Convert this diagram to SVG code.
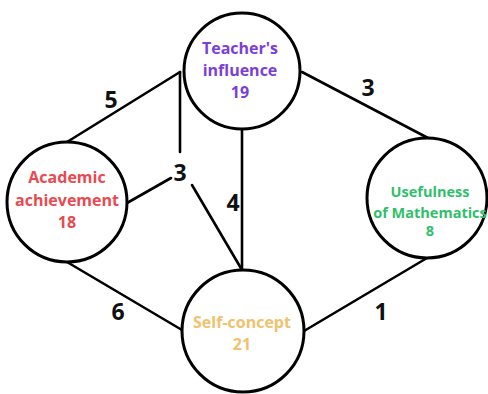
<svg xmlns="http://www.w3.org/2000/svg" width="488" height="394" viewBox="0 0 488 394">
<style>
.n{fill:#fff;stroke:#000;stroke-width:3}
.e{stroke:#000;stroke-width:2.6;fill:none;stroke-linecap:round}
.t{font-family:"Open Sans","Liberation Sans",sans-serif;font-weight:bold;font-size:16px;text-anchor:middle}
.s{font-size:14.5px}
.w{font-family:"Open Sans","Liberation Sans",sans-serif;font-weight:bold;font-size:23px;text-anchor:middle;fill:#111}
</style>
<rect width="488" height="394" fill="#fff"/>
<g id="connectors">
<line class="e" x1="180" y1="72" x2="67" y2="142"/>
<line class="e" x1="180" y1="72" x2="180" y2="152"/>
<line class="e" x1="127" y1="203" x2="171" y2="178"/>
<line class="e" x1="192" y1="185" x2="242" y2="270"/>
<line class="e" x1="242" y1="129" x2="242" y2="270"/>
<line class="e" x1="302" y1="72" x2="428" y2="138"/>
<line class="e" x1="427" y1="258" x2="304" y2="331"/>
<line class="e" x1="67" y1="262" x2="182" y2="330"/>
<text class="w" x="111" y="108">5</text>
<text class="w" x="180" y="181">3</text>
<text class="w" x="233" y="211">4</text>
<text class="w" x="368" y="96">3</text>
<text class="w" x="381" y="320">1</text>
<text class="w" x="118" y="320">6</text>
</g>
<g id="teacher">
<circle class="n" cx="242" cy="71" r="58"/>
<text class="t" fill="#7b3fd8" x="240" y="54">Teacher's</text>
<text class="t" fill="#7b3fd8" x="240" y="76">influence</text>
<text class="t" fill="#7b3fd8" x="240" y="98">19</text>
</g>
<g id="academic">
<circle class="n" cx="67" cy="202" r="60"/>
<text class="t" fill="#e84a4f" x="67" y="183">Academic</text>
<text class="t" fill="#e84a4f" x="67" y="206">achievement</text>
<text class="t" fill="#e84a4f" x="67" y="228">18</text>
</g>
<g id="usefulness">
<circle class="n" cx="427" cy="198" r="60"/>
<text class="t s" fill="#2fbf6c" x="430" y="197">Usefulness</text>
<text class="t s" fill="#2fbf6c" x="430" y="218">of Mathematics</text>
<text class="t s" fill="#2fbf6c" x="430" y="236">8</text>
</g>
<g id="selfconcept">
<circle class="n" cx="243" cy="331" r="61"/>
<text class="t" fill="#f2c16c" x="242" y="328">Self-concept</text>
<text class="t" fill="#f2c16c" x="242" y="350">21</text>
</g>
</svg>
